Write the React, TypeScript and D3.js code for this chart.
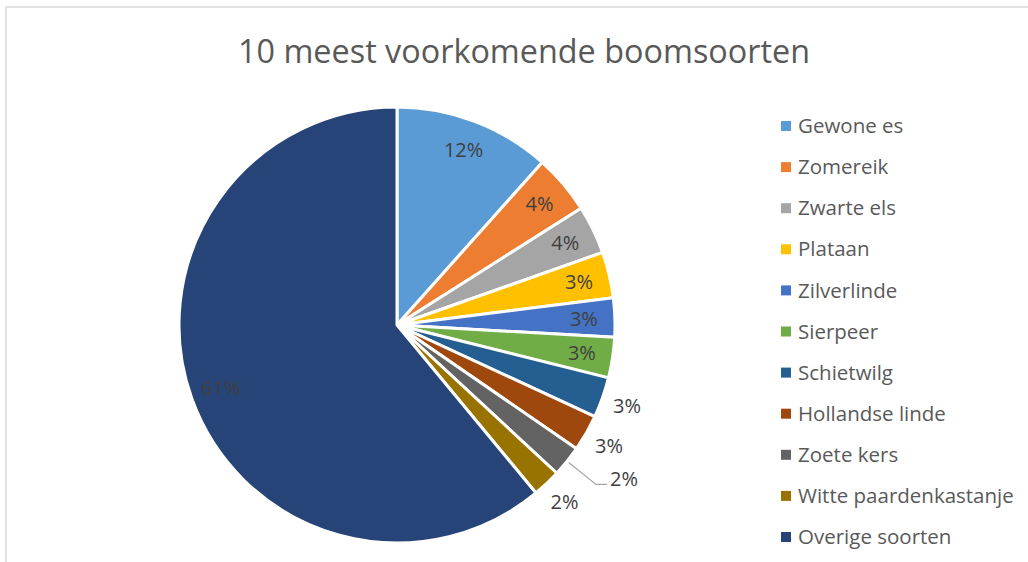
import React from 'react';
import * as d3 from 'd3';

const species = [
  'Gewone es',
  'Zomereik',
  'Zwarte els',
  'Plataan',
  'Zilverlinde',
  'Sierpeer',
  'Schietwilg',
  'Hollandse linde',
  'Zoete kers',
  'Witte paardenkastanje',
  'Overige soorten',
];
const shares = [11.6, 4.4, 3.6, 3.4, 2.9, 3.0, 3.0, 2.7, 2.3, 2.1, 61.0];
const colors = [
  '#5B9BD5', '#ED7D31', '#A5A5A5', '#FFC000', '#4472C4', '#70AD47',
  '#255E91', '#9E480E', '#636363', '#997300', '#264478',
];
// labels placed outside the slice (Excel best fit)
const outside = ['Schietwilg', 'Hollandse linde', 'Zoete kers', 'Witte paardenkastanje'];
const withLeader = ['Zoete kers'];

const W = 1028;
const H = 562;
const FONT = "'Open Sans', 'Liberation Sans', sans-serif";

export default function App() {
  const cx = 397;
  const cy = 325;
  const r = 218;

  const data = species.map((name, i) => ({ name, value: shares[i] }));
  const total = d3.sum(shares);
  const pie = d3.pie<any>().sort(null).value(d => d.value);
  const arcs = pie(data);
  const arc = d3.arc<any>().innerRadius(0).outerRadius(r);
  const color = d3.scaleOrdinal<string, string>().domain(species).range(colors);

  const polar = (a: number, rad: number) => [Math.sin(a) * rad, -Math.cos(a) * rad];

  const legendY = d3.scalePoint<string>().domain(species).range([126, 537]);

  return (
    <svg width={W} height={H} style={{ position: 'absolute', left: 0, top: 0, background: '#fff' }}>
      <path d={`M6,${H} V7 H${W}`} fill="none" stroke="#D9D9D9" strokeWidth={1.5} />
      <text
        x={524}
        y={63}
        textAnchor="middle"
        fontFamily={FONT}
        fontSize={32}
        fill="#595959"
        textLength={572}
        lengthAdjust="spacingAndGlyphs"
      >
        10 meest voorkomende boomsoorten
      </text>

      <g transform={`translate(${cx},${cy})`}>
        {arcs.map(a => (
          <path key={a.data.name} d={arc(a) || ''} fill={color(a.data.name)} stroke="#fff" strokeWidth={3} strokeLinejoin="round" />
        ))}
        {arcs.map(a => {
          const mid = (a.startAngle + a.endAngle) / 2;
          const label = `${Math.round((a.data.value / total) * 100)}%`;
          if (withLeader.includes(a.data.name)) {
            const [x0, y0] = polar(mid, r + 2);
            const [x1, y1] = polar(mid, r + 37);
            return (
              <g key={a.data.name}>
                <polyline
                  points={`${x0},${y0} ${x1},${y1} ${x1 + 11},${y1}`}
                  fill="none"
                  stroke="#A6A6A6"
                  strokeWidth={1.2}
                />
                <text x={x1 + 14} y={y1 - 5} dy="0.35em" fontFamily={FONT} fontSize={20} fill="#404040">
                  {label}
                </text>
              </g>
            );
          }
          const rad = outside.includes(a.data.name) ? 244 : 187;
          const [x, y] = polar(mid, rad);
          return (
            <text key={a.data.name} x={x} y={y} dy="0.35em" textAnchor="middle" fontFamily={FONT} fontSize={20} fill="#404040">
              {label}
            </text>
          );
        })}
      </g>

      <g>
        {species.map(name => (
          <g key={name} transform={`translate(781,${legendY(name)})`}>
            <rect x={0} y={-5} width={10} height={10} fill={color(name)} />
            <text x={17} y={0} dy="0.35em" fontFamily={FONT} fontSize={20.5} fill="#595959">
              {name}
            </text>
          </g>
        ))}
      </g>
    </svg>
  );
}
